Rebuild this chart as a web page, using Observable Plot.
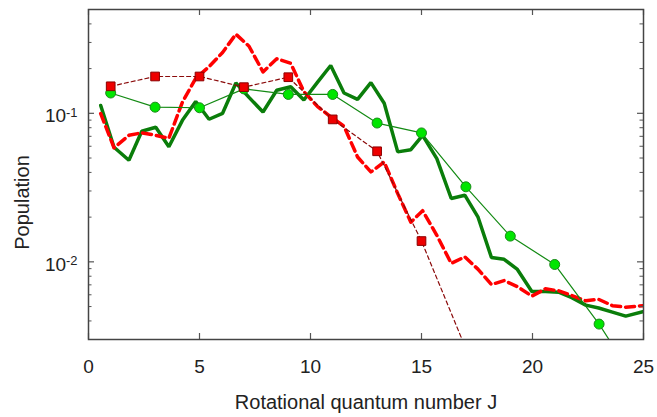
<!DOCTYPE html>
<html><head><meta charset="utf-8">
<script src="https://cdn.jsdelivr.net/npm/d3@7"></script>
<script src="https://cdn.jsdelivr.net/npm/@observablehq/plot@0.6"></script>
<style>body{margin:0;background:#fff} svg{display:block}</style>
</head><body><div id="chart"></div><script>
// Thick curves (no markers)
const thickJ = [0.55, 1.15, 1.82, 2.40, 3.03, 3.62, 4.23, 4.83, 5.43, 6.04, 6.64, 7.23, 7.86, 8.48, 9.11, 9.70, 10.32, 10.91, 11.51, 12.12, 12.72, 13.32, 13.93, 14.52, 15.05, 15.69, 16.34, 16.95, 17.54, 18.15, 18.72, 19.32, 19.97, 20.58, 21.18, 21.77, 22.40, 22.98, 23.60, 24.20, 24.97];
const greenThick = [0.113, 0.0591, 0.0483, 0.0757, 0.0805, 0.0596, 0.0897, 0.120, 0.0912, 0.100, 0.160, 0.128, 0.102, 0.143, 0.151, 0.123, 0.162, 0.210, 0.137, 0.124, 0.161, 0.117, 0.0550, 0.0569, 0.0711, 0.0496, 0.0267, 0.0281, 0.0201, 0.0107, 0.0104, 0.00889, 0.00631, 0.00631, 0.00625, 0.00574, 0.00511, 0.00489, 0.00459, 0.00431, 0.00461];
const redThick = [0.0995, 0.0586, 0.0711, 0.0739, 0.0711, 0.0679, 0.119, 0.172, 0.206, 0.257, 0.341, 0.283, 0.190, 0.233, 0.217, 0.140, 0.111, 0.0947, 0.0818, 0.0508, 0.0403, 0.047, 0.0288, 0.0185, 0.0221, 0.0151, 0.00976, 0.0108, 0.00893, 0.00703, 0.00748, 0.00681, 0.00588, 0.00658, 0.00638, 0.00593, 0.00547, 0.00559, 0.00507, 0.00495, 0.00507];
// Marker series
const circleJ = [1, 3, 5, 7, 9, 11, 13, 15, 17, 19, 21, 23, 25];
const circleVals = [0.137, 0.110, 0.109, 0.146, 0.134, 0.134, 0.086, 0.0738, 0.0320, 0.0149, 0.0096, 0.00381, 0.0013];
const squareJ = [1, 3, 5, 7, 9, 11, 13, 15, 17];
const squareVals = [0.152, 0.177, 0.177, 0.150, 0.175, 0.091, 0.0555, 0.0138, 0.0026];
// Axes
const xTicks = [0, 5, 10, 15, 20, 25];
const yTicks = [0.01, 0.1];
const yMinorTicks = [0.004, 0.005, 0.006, 0.007, 0.008, 0.009, 0.02, 0.03, 0.04, 0.05, 0.06, 0.07, 0.08, 0.09, 0.2, 0.3, 0.4];
const xLabel = "Rotational quantum number J";
const yLabel = "Population";

const W = 657, H = 417;
const mL = 88, mR = 14, mT = 9, mB = 78;
const pw = W - mL - mR, ph = H - mT - mB;
const tickCol = "#555";

const thick = thickJ.map((j, i) => ({j, g: greenThick[i], r: redThick[i]}));
const circles = circleJ.map((j, i) => ({j, v: circleVals[i]}));
const squares = squareJ.map((j, i) => ({j, v: squareVals[i]}));

const chart = Plot.plot({
  width: W, height: H,
  marginLeft: mL, marginRight: mR, marginTop: mT, marginBottom: mB,
  style: {fontFamily: "'Liberation Sans', Arial, sans-serif", fontSize: "19px", color: "#222", background: "#fff"},
  x: {domain: [0, 25]},
  y: {type: "log", domain: [0.003, 0.5]},
  marks: [
    Plot.line(thick, {x: "j", y: "g", stroke: "#0a7d0a", strokeWidth: 3.5, clip: true, strokeLinejoin: "miter"}),
    Plot.line(thick, {x: "j", y: "r", stroke: "#ff0000", strokeWidth: 3.5, strokeDasharray: "9,5", clip: true}),
    Plot.line(circles, {x: "j", y: "v", stroke: "#138a13", strokeWidth: 1.2, clip: true}),
    Plot.line(squares, {x: "j", y: "v", stroke: "#8b0a0a", strokeWidth: 1.2, strokeDasharray: "4,3", clip: true}),
    Plot.dot(circles, {x: "j", y: "v", r: 5, fill: "#00e600", stroke: "#1a8a1a", strokeWidth: 1, clip: true}),
    Plot.dot(squares, {x: "j", y: "v", r: 4.9, symbol: "square", fill: "#ee0000", stroke: "#8b0000", strokeWidth: 1, clip: true}),
    // inward ticks
    Plot.tickX(xTicks, {x: d => d, insetTop: ph - 6, stroke: tickCol, strokeWidth: 1.2}),
    Plot.tickX(xTicks, {x: d => d, insetBottom: ph - 6, stroke: tickCol, strokeWidth: 1.2}),
    Plot.tickY(yTicks, {y: d => d, insetRight: pw - 6, stroke: tickCol, strokeWidth: 1.2}),
    Plot.tickY(yTicks, {y: d => d, insetLeft: pw - 6, stroke: tickCol, strokeWidth: 1.2}),
    Plot.tickY(yMinorTicks, {y: d => d, insetRight: pw - 3.5, stroke: tickCol, strokeWidth: 1}),
    Plot.tickY(yMinorTicks, {y: d => d, insetLeft: pw - 3.5, stroke: tickCol, strokeWidth: 1}),
    Plot.frame({stroke: "#444", strokeWidth: 1.5}),
    Plot.axisX(xTicks, {tickSize: 0, tickPadding: 20, fontSize: 19, label: null}),
    Plot.axisY(yTicks, {tickSize: 0, tickPadding: 11, fontSize: 19, label: null, dy: 3,
      tickFormat: d => "10^" + Math.round(Math.log10(d))}),
    Plot.text([xLabel], {frameAnchor: "bottom", dy: 69, fontSize: 20, fill: "#222", textAnchor: "middle"}),
    Plot.text([yLabel], {frameAnchor: "left", dx: -66, dy: 28, rotate: -90, fontSize: 20, fill: "#222", textAnchor: "middle"})
  ]
});

// superscript exponents on y tick labels
const ns = "http://www.w3.org/2000/svg";
chart.querySelectorAll('g[aria-label="y-axis tick label"] text').forEach(t => {
  const s = t.textContent;
  if (!s.includes("^")) return;
  const [b, e] = s.split("^");
  t.textContent = b;
  const ts = document.createElementNS(ns, "tspan");
  ts.setAttribute("dy", "-0.45em");
  ts.setAttribute("font-size", "0.68em");
  ts.textContent = e;
  t.appendChild(ts);
});
document.getElementById("chart").appendChild(chart);
</script></body></html>
